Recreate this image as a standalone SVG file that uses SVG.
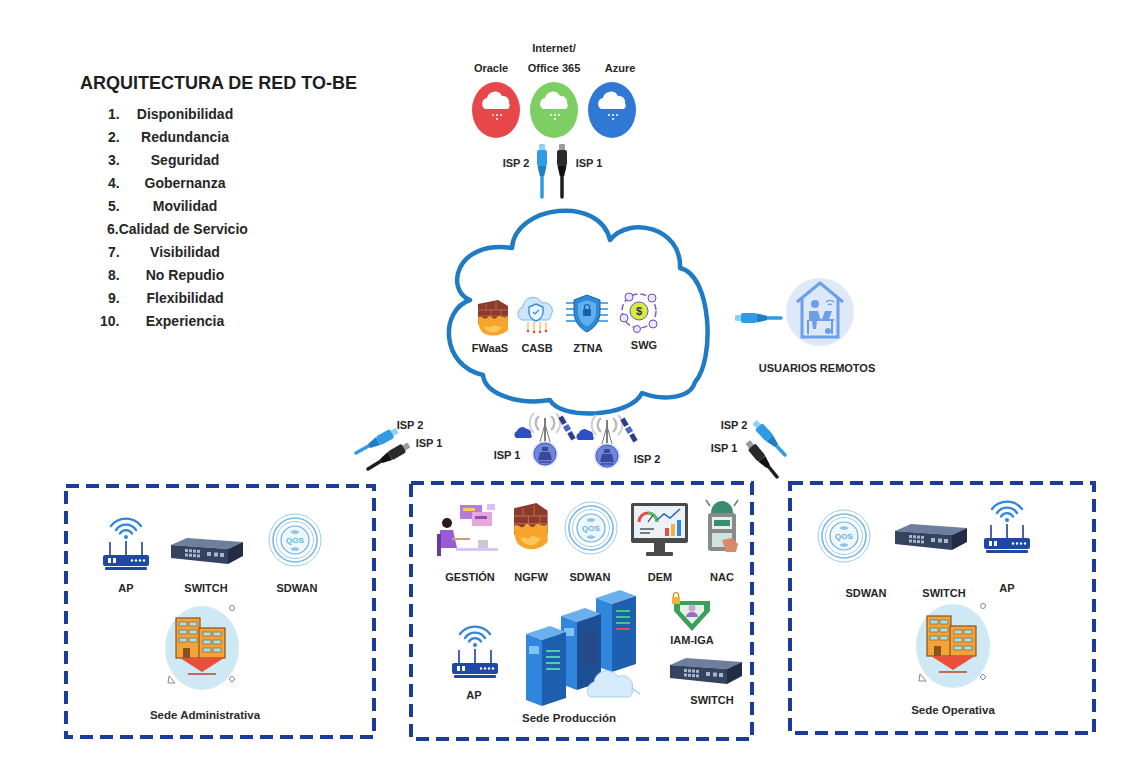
<svg xmlns="http://www.w3.org/2000/svg" width="1133" height="760" viewBox="0 0 1133 760">
  <style>
    .title { font-family: "Liberation Sans", Arial, sans-serif; font-size: 18px; font-weight: bold; fill: #1e1e1e; }
    .item { font-family: "Liberation Sans", Arial, sans-serif; font-size: 14px; font-weight: bold; fill: #262626; }
    .lbl { font-family: "Liberation Sans", Arial, sans-serif; font-size: 11px; font-weight: bold; fill: #262626; text-anchor: middle; }
    .site { font-family: "Liberation Sans", Arial, sans-serif; font-size: 11.5px; font-weight: bold; fill: #2a2a2a; text-anchor: middle; }
    .qos { font-family: "Liberation Sans", Arial, sans-serif; font-size: 8px; font-weight: bold; fill: #6aaee0; text-anchor: middle; }
    .box { fill: none; stroke: #1c3c9c; stroke-width: 4; stroke-dasharray: 13 7; }
    .cloudline { fill: #ffffff; stroke: #1f7bc4; stroke-width: 4.5; stroke-linejoin: round; }
    .cable-blue { stroke: #2f9be3; stroke-width: 3.5; stroke-linecap: round; }
    .cable-black { stroke: #1e1e1e; stroke-width: 3.5; stroke-linecap: round; }
  </style>
  <defs>
    <!-- RJ45 plug, tip pointing up (-y), cable continues below the origin -->
    <g id="plug-blue">
      <rect x="-3" y="-30" width="6" height="7" rx="1" fill="#8fd0f5"/>
      <rect x="-5" y="-24" width="10" height="16" rx="2" fill="#2f9be3"/>
      <path d="M-4.5,-8 L4.5,-8 L2.2,2 L-2.2,2 Z" fill="#1e7fc4"/>
    </g>
    <g id="plug-black">
      <rect x="-3" y="-30" width="6" height="7" rx="1" fill="#9a9a9a"/>
      <rect x="-5" y="-24" width="10" height="16" rx="2" fill="#2a2a2a"/>
      <path d="M-4.5,-8 L4.5,-8 L2.2,2 L-2.2,2 Z" fill="#111"/>
    </g>
    <!-- white cloud glyph used on the service bubbles -->
    <g id="mini-cloud">
      <path d="M-12,4 a6,6 0 0 1 2,-11 a8,8 0 0 1 15,-2 a6,6 0 0 1 7,7 a5,5 0 0 1 -1,6 Z" fill="#ffffff"/>
      <circle cx="-4" cy="10" r="1" fill="#ffffff"/>
      <circle cx="0" cy="10" r="1" fill="#ffffff"/>
      <circle cx="4" cy="10" r="1" fill="#ffffff"/>
      <circle cx="0" cy="14" r="1" fill="#ffffff"/>
    </g>
    <!-- access point -->
    <g id="ap">
      <path d="M13,16 a12,12 0 0 1 20,0" fill="none" stroke="#2f86dc" stroke-width="2.4" stroke-linecap="round"/>
      <path d="M8,12 a19,19 0 0 1 30,0" fill="none" stroke="#2f86dc" stroke-width="2.4" stroke-linecap="round"/>
      <path d="M17,19.5 a7,7 0 0 1 12,0" fill="none" stroke="#2f86dc" stroke-width="2.4" stroke-linecap="round"/>
      <circle cx="23" cy="23" r="2" fill="#2f86dc"/>
      <line x1="7" y1="28" x2="7" y2="41" stroke="#1d3f98" stroke-width="1.6"/>
      <line x1="23" y1="27" x2="23" y2="41" stroke="#1d3f98" stroke-width="1.6"/>
      <line x1="39" y1="28" x2="39" y2="41" stroke="#1d3f98" stroke-width="1.6"/>
      <rect x="0" y="41" width="46" height="11" rx="2" fill="#1f48a6"/>
      <rect x="5" y="44" width="3" height="5" fill="#fff"/>
      <rect x="10" y="44" width="3" height="5" fill="#fff"/>
      <circle cx="29" cy="46.5" r="1.2" fill="#fff"/>
      <circle cx="33" cy="46.5" r="1.2" fill="#fff"/>
      <circle cx="37" cy="46.5" r="1.2" fill="#fff"/>
      <circle cx="41" cy="46.5" r="1.2" fill="#fff"/>
      <rect x="2" y="53" width="42" height="3" rx="1" fill="#1f48a6"/>
    </g>
    <!-- network switch -->
    <g id="switch">
      <polygon points="0,8 16,1 72,5 57,12" fill="#6d7f9c"/>
      <polygon points="0,8 57,12 57,27 0,21" fill="#34435f"/>
      <polygon points="57,12 72,5 72,19 57,27" fill="#222d45"/>
      <g fill="#a9b6cc">
        <rect x="14" y="12" width="3" height="3"/><rect x="18" y="12.3" width="3" height="3"/><rect x="22" y="12.6" width="3" height="3"/><rect x="26" y="12.9" width="3" height="3"/>
        <rect x="14" y="16.5" width="3" height="3"/><rect x="18" y="16.8" width="3" height="3"/><rect x="22" y="17.1" width="3" height="3"/><rect x="26" y="17.4" width="3" height="3"/>
        <rect x="36" y="15" width="4" height="4"/><rect x="43" y="15.5" width="4" height="4"/><rect x="49" y="16" width="4" height="4"/>
      </g>
    </g>
    <!-- SD-WAN / QoS badge -->
    <g id="qos">
      <circle r="26" fill="#ffffff" stroke="#9ccbee" stroke-width="1"/>
      <circle r="22" fill="none" stroke="#7cb8e6" stroke-width="1.6"/>
      <circle r="18.5" fill="none" stroke="#9ccbee" stroke-width="1"/>
      <circle r="14" fill="#eef7fd" stroke="#6aaee0" stroke-width="1.2"/>
      <ellipse cx="0" cy="-8" rx="4" ry="1.8" fill="#8cc4ea"/>
      <ellipse cx="0" cy="9" rx="4" ry="1.8" fill="#8cc4ea"/>
      <text class="qos" x="0" y="3">QOS</text>
    </g>
    <!-- site building -->
    <g id="building">
      <ellipse rx="37" ry="42" fill="#cfe9f4"/>
      <rect x="-26" y="-30" width="24" height="40" fill="#f2a33a" stroke="#8a5220" stroke-width="1.2"/>
      <rect x="-3" y="-20" width="26" height="30" fill="#f2a33a" stroke="#8a5220" stroke-width="1.2"/>
      <g fill="#9fe0ec" stroke="#8a5220" stroke-width="0.6">
        <rect x="-23" y="-26" width="8" height="4"/><rect x="-13" y="-26" width="8" height="4"/>
        <rect x="-23" y="-18" width="8" height="4"/><rect x="-13" y="-18" width="8" height="4"/>
        <rect x="-23" y="-10" width="8" height="4"/><rect x="-13" y="-10" width="8" height="4"/>
        <rect x="1" y="-16" width="8" height="4"/><rect x="11" y="-16" width="8" height="4"/>
        <rect x="1" y="-8" width="8" height="4"/><rect x="11" y="-8" width="8" height="4"/>
        <rect x="1" y="0" width="8" height="4"/><rect x="11" y="0" width="8" height="4"/>
      </g>
      <rect x="-19" y="0" width="7" height="10" fill="#8a5220"/>
      <polygon points="-22,10 22,10 0,24" fill="#e9503a"/>
      <line x1="-14" y1="26" x2="14" y2="26" stroke="#c23c2a" stroke-width="1.5"/>
      <circle cx="30" cy="-40" r="2.5" fill="none" stroke="#888" stroke-width="1"/>
      <polygon points="30,28 33,31 30,34 27,31" fill="none" stroke="#888" stroke-width="1"/>
      <polygon points="-33,28 -27,35 -34,35" fill="none" stroke="#888" stroke-width="1"/>
    </g>
    <!-- radio link tower with satellite and cloud -->
    <g id="tower">
      <line x1="0" y1="-12" x2="0" y2="-36" stroke="#555" stroke-width="1.5"/>
      <line x1="-5" y1="-12" x2="0" y2="-30" stroke="#777" stroke-width="1"/>
      <line x1="5" y1="-12" x2="0" y2="-30" stroke="#777" stroke-width="1"/>
      <path d="M-6,-38 a9,9 0 0 0 0,14" fill="none" stroke="#b9b9b9" stroke-width="2.2"/>
      <path d="M6,-38 a9,9 0 0 1 0,14" fill="none" stroke="#b9b9b9" stroke-width="2.2"/>
      <path d="M-11,-41 a14,14 0 0 0 0,20" fill="none" stroke="#cfcfcf" stroke-width="2"/>
      <path d="M11,-41 a14,14 0 0 1 0,20" fill="none" stroke="#cfcfcf" stroke-width="2"/>
      <path d="M-29,-16 a4,4 0 0 1 1,-7 a6,6 0 0 1 10,-2 a4,4 0 0 1 4,5 a3,3 0 0 1 0,4 Z" fill="#2f4fc4"/>
      <g transform="translate(22,-26) rotate(60)">
        <rect x="-13" y="-2.5" width="8" height="5" fill="#2c3f8f"/>
        <rect x="-3" y="-3" width="6" height="6" fill="#4a66c8"/>
        <rect x="5" y="-2.5" width="8" height="5" fill="#2c3f8f"/>
      </g>
      <circle r="13" fill="#dde3f8"/>
      <circle r="11" fill="#6f86e0" stroke="#4258b8" stroke-width="1"/>
      <path d="M-3,-7 h6 v4 h-6 Z M-5,-2 h10 l2,8 h-14 Z" fill="#3a4a9a"/>
      <line x1="-6" y1="8" x2="6" y2="8" stroke="#3a4a9a" stroke-width="1.5"/>
    </g>
    <!-- brick wall with flames (firewall) -->
    <g id="firewall">
      <path d="M0,4 L20,0 L30,6 L30,24 L0,24 Z" fill="#8b3a2c"/>
      <g stroke="#c0705a" stroke-width="0.8">
        <line x1="0" y1="10" x2="30" y2="10"/><line x1="0" y1="16" x2="30" y2="16"/>
        <line x1="8" y1="4" x2="8" y2="10"/><line x1="18" y1="2" x2="18" y2="10"/>
        <line x1="13" y1="10" x2="13" y2="16"/><line x1="23" y1="10" x2="23" y2="16"/>
      </g>
      <path d="M0,18 C4,14 6,22 10,17 C13,13 15,22 19,17 C22,14 26,20 30,16 L30,30 C24,36 12,38 4,32 C1,28 0,24 0,18 Z" fill="#f6a52a"/>
      <path d="M6,28 C9,24 12,30 15,26 C18,23 21,29 24,26 C22,33 12,35 6,28 Z" fill="#f8c95a"/>
    </g>
  </defs>

  <rect width="1133" height="760" fill="#ffffff"/>

  <!-- heading and list of design principles -->
  <g id="heading">
    <text class="title" x="80" y="89">ARQUITECTURA DE RED TO-BE</text>
    <g class="item">
      <text x="108" y="119">1.</text><text x="185" y="119" text-anchor="middle">Disponibilidad</text>
      <text x="108" y="142">2.</text><text x="185" y="142" text-anchor="middle">Redundancia</text>
      <text x="108" y="165">3.</text><text x="185" y="165" text-anchor="middle">Seguridad</text>
      <text x="108" y="188">4.</text><text x="185" y="188" text-anchor="middle">Gobernanza</text>
      <text x="108" y="211">5.</text><text x="185" y="211" text-anchor="middle">Movilidad</text>
      <text x="107" y="234">6.Calidad de Servicio</text>
      <text x="108" y="257">7.</text><text x="185" y="257" text-anchor="middle">Visibilidad</text>
      <text x="108" y="280">8.</text><text x="185" y="280" text-anchor="middle">No Repudio</text>
      <text x="108" y="303">9.</text><text x="185" y="303" text-anchor="middle">Flexibilidad</text>
      <text x="100" y="326">10.</text><text x="185" y="326" text-anchor="middle">Experiencia</text>
    </g>
  </g>

  <!-- connectors: cables between clouds, sites and remote users -->
  <g id="connectors">
    <line class="cable-blue" x1="542" y1="170" x2="542" y2="197"/>
    <use href="#plug-blue" transform="translate(542,174)"/>
    <line class="cable-black" x1="562" y1="170" x2="562" y2="197"/>
    <use href="#plug-black" transform="translate(562,174)"/>

    <line class="cable-blue" x1="760" y1="318" x2="781" y2="318"/>
    <use href="#plug-blue" transform="translate(765,318) rotate(-90)"/>

    <line class="cable-blue" x1="356" y1="453" x2="374" y2="443"/>
    <use href="#plug-blue" transform="translate(371,445) rotate(61)"/>
    <line class="cable-black" x1="368" y1="469" x2="386" y2="458"/>
    <use href="#plug-black" transform="translate(383,460) rotate(60)"/>

    <line class="cable-blue" x1="785" y1="455" x2="772" y2="441"/>
    <use href="#plug-blue" transform="translate(775,444) rotate(-43)"/>
    <line class="cable-black" x1="777" y1="477" x2="764" y2="461"/>
    <use href="#plug-black" transform="translate(767,465) rotate(-40)"/>
  </g>

  <!-- public cloud services -->
  <g id="oracle">
    <ellipse cx="496" cy="110" rx="24" ry="28" fill="#e8474a"/>
    <use href="#mini-cloud" transform="translate(497,105)"/>
    <text class="lbl" x="491" y="72">Oracle</text>
  </g>
  <g id="internet">
    <ellipse cx="554" cy="110" rx="24" ry="28" fill="#7dcf63"/>
    <use href="#mini-cloud" transform="translate(555,105)"/>
    <text class="lbl" x="554" y="52">Internet/</text>
    <text class="lbl" x="554" y="72">Office 365</text>
  </g>
  <g id="azure">
    <ellipse cx="612" cy="110" rx="24" ry="28" fill="#2f78d4"/>
    <use href="#mini-cloud" transform="translate(613,105)"/>
    <text class="lbl" x="620" y="72">Azure</text>
  </g>
  <g id="isp-top">
    <text class="lbl" x="516" y="167">ISP 2</text>
    <text class="lbl" x="589" y="167">ISP 1</text>
  </g>

  <!-- SASE cloud -->
  <g id="sase-cloud">
    <path class="cloudline" d="M470,300 C445,290 455,240 512,248 C515,205 600,195 610,240 C630,215 682,228 680,268 C712,275 715,360 695,382 C690,400 660,400 642,393 C630,418 560,420 550,400 C520,405 485,395 483,375 C440,365 440,310 470,300 Z"/>
    <g id="fwaas">
      <use href="#firewall" transform="translate(478,300)"/>
      <text class="lbl" x="490" y="352">FWaaS</text>
    </g>
    <g id="casb">
      <path d="M522,320 a7,7 0 0 1 1,-13 a10,10 0 0 1 19,-4 a8,8 0 0 1 9,12 a5,5 0 0 1 -3,5 Z" fill="#cde6fa" stroke="#7ab8ea" stroke-width="1"/>
      <path d="M536,304 l7,3 v5 c0,5 -4,8 -7,9 c-3,-1 -7,-4 -7,-9 v-5 Z" fill="#e9f4fd" stroke="#3a8ad8" stroke-width="1.4"/>
      <path d="M533,312 l2,2 l4,-4" fill="none" stroke="#3a8ad8" stroke-width="1.2"/>
      <g stroke="#f0a030" stroke-width="1">
        <line x1="528" y1="322" x2="528" y2="330"/><line x1="534" y1="322" x2="534" y2="331"/>
        <line x1="540" y1="322" x2="540" y2="331"/><line x1="546" y1="322" x2="546" y2="330"/>
      </g>
      <g fill="#e8503a">
        <circle cx="528" cy="331" r="1.3"/><circle cx="534" cy="332" r="1.3"/><circle cx="540" cy="332" r="1.3"/><circle cx="546" cy="331" r="1.3"/>
      </g>
      <text class="lbl" x="537" y="352">CASB</text>
    </g>
    <g id="ztna">
      <g stroke="#2d8ad8" stroke-width="1.6">
        <line x1="566" y1="303" x2="608" y2="303"/><line x1="566" y1="309" x2="608" y2="309"/>
        <line x1="566" y1="315" x2="608" y2="315"/><line x1="566" y1="321" x2="608" y2="321"/>
      </g>
      <path d="M587,295 l13,5 v12 c0,10 -7,17 -13,20 c-6,-3 -13,-10 -13,-20 v-12 Z" fill="#2d8ad8" stroke="#1a5fa8" stroke-width="1"/>
      <path d="M587,300 l9,3.5 v9 c0,7 -5,12 -9,14 c-4,-2 -9,-7 -9,-14 v-9 Z" fill="#5fb0ef"/>
      <rect x="583" y="309" width="8" height="7" rx="1" fill="#1a5fa8"/>
      <path d="M584.5,309 v-2 a2.5,2.5 0 0 1 5,0 v2" fill="none" stroke="#1a5fa8" stroke-width="1.2"/>
      <text class="lbl" x="588" y="352">ZTNA</text>
    </g>
    <g id="swg">
      <circle cx="639" cy="311" r="17" fill="none" stroke="#7a5ad0" stroke-width="1.5" stroke-dasharray="6 3"/>
      <g fill="#ede6fb" stroke="#6a4fc8" stroke-width="1">
        <circle cx="629" cy="297" r="4"/><circle cx="652" cy="298" r="4"/>
        <circle cx="624" cy="318" r="4"/><circle cx="653" cy="324" r="4"/><circle cx="637" cy="329" r="3.5"/>
      </g>
      <circle cx="639" cy="311" r="9" fill="#d6ee3a" stroke="#6a4fc8" stroke-width="1"/>
      <text x="639" y="315" font-family="Liberation Sans, Arial, sans-serif" font-size="11" font-weight="bold" fill="#3a2a6a" text-anchor="middle">$</text>
      <text class="lbl" x="644" y="349">SWG</text>
    </g>
  </g>

  <!-- remote users -->
  <g id="usuarios-remotos">
    <circle cx="820" cy="312" r="34" fill="#dde8f8"/>
    <polyline points="797,302 820,283 843,302" fill="none" stroke="#6d9ee8" stroke-width="3" stroke-linejoin="round"/>
    <polyline points="802,298 802,337 838,337 838,298" fill="none" stroke="#6d9ee8" stroke-width="3"/>
    <circle cx="815" cy="304" r="4" fill="#6d9ee8"/>
    <path d="M809,311 h9 l3,10 h-4 l-1,8 h-3 l-1,-8 h-3 Z" fill="#6d9ee8"/>
    <line x1="808" y1="320" x2="808" y2="334" stroke="#6d9ee8" stroke-width="2"/>
    <line x1="818" y1="320" x2="834" y2="320" stroke="#6d9ee8" stroke-width="2"/>
    <line x1="832" y1="320" x2="832" y2="334" stroke="#6d9ee8" stroke-width="2"/>
    <path d="M822,319 l3,-8 h7 l-3,8 Z" fill="#6d9ee8"/>
    <path d="M826,302 a6,6 0 0 1 8,0 M828,305 a3,3 0 0 1 4,0" fill="none" stroke="#6d9ee8" stroke-width="1.4"/>
    <circle cx="828" cy="331" r="3" fill="#6d9ee8"/>
    <text class="lbl" x="817" y="372">USUARIOS REMOTOS</text>
  </g>

  <!-- ISP links towards the sites -->
  <g id="isp-left">
    <text class="lbl" x="410" y="429">ISP 2</text>
    <text class="lbl" x="429" y="447">ISP 1</text>
  </g>
  <g id="tower-isp1">
    <use href="#tower" transform="translate(545,454)"/>
    <text class="lbl" x="507" y="459">ISP 1</text>
  </g>
  <g id="tower-isp2">
    <use href="#tower" transform="translate(607,456)"/>
    <text class="lbl" x="647" y="463">ISP 2</text>
  </g>
  <g id="isp-right">
    <text class="lbl" x="734" y="429">ISP 2</text>
    <text class="lbl" x="724" y="452">ISP 1</text>
  </g>

  <!-- Sede Administrativa -->
  <g id="sede-administrativa">
    <rect class="box" x="66" y="486" width="308" height="251"/>
    <use href="#ap" transform="translate(103,514)"/>
    <text class="lbl" x="126" y="592">AP</text>
    <use href="#switch" transform="translate(171,537)"/>
    <text class="lbl" x="206" y="592">SWITCH</text>
    <use href="#qos" transform="translate(295,540)"/>
    <text class="lbl" x="297" y="592">SDWAN</text>
    <use href="#building" transform="translate(202,648)"/>
    <text class="site" x="205" y="719">Sede Administrativa</text>
  </g>

  <!-- Sede Producción -->
  <g id="sede-produccion">
    <rect class="box" x="411" y="483" width="341" height="256"/>
    <g id="gestion">
      <rect x="460" y="505" width="22" height="14" fill="#b77be0"/>
      <rect x="472" y="512" width="20" height="14" fill="#e8a7d8"/>
      <rect x="463" y="508" width="12" height="3" fill="#f2d24a"/>
      <rect x="475" y="516" width="12" height="3" fill="#8a50c0"/>
      <rect x="487" y="504" width="8" height="6" fill="#d9c0f0"/>
      <circle cx="447" cy="523" r="5" fill="#2a1a1a"/>
      <path d="M440,530 h13 l4,18 h-18 Z" fill="#9a5bd6"/>
      <rect x="437" y="534" width="4" height="22" fill="#6a3aa0"/>
      <line x1="452" y1="539" x2="470" y2="539" stroke="#d49a80" stroke-width="2"/>
      <rect x="456" y="548" width="42" height="3" fill="#d8c8f0"/>
      <rect x="478" y="540" width="10" height="8" fill="#c8c8d8"/>
      <text class="lbl" x="470" y="581">GESTIÓN</text>
    </g>
    <g id="ngfw">
      <use href="#firewall" transform="translate(514,503) scale(1.12,1.3)"/>
      <text class="lbl" x="531" y="581">NGFW</text>
    </g>
    <g id="sdwan-prod">
      <use href="#qos" transform="translate(591,528)"/>
      <text class="lbl" x="590" y="581">SDWAN</text>
    </g>
    <g id="dem">
      <rect x="631" y="503" width="57" height="40" rx="2" fill="#4a4a4a"/>
      <rect x="634" y="506" width="51" height="32" fill="#eaf2f8"/>
      <path d="M639,522 a9,9 0 0 1 18,0" fill="none" stroke="#e84a4a" stroke-width="3"/>
      <path d="M648,513 a9,9 0 0 1 9,9" fill="none" stroke="#4ac46a" stroke-width="3"/>
      <line x1="648" y1="522" x2="653" y2="515" stroke="#333" stroke-width="1.2"/>
      <polyline points="657,520 664,514 670,518 680,509" fill="none" stroke="#2a5fb8" stroke-width="1.5"/>
      <rect x="665" y="528" width="4" height="8" fill="#e84a4a"/>
      <rect x="671" y="524" width="4" height="12" fill="#f2b33a"/>
      <rect x="677" y="520" width="4" height="16" fill="#2f86dc"/>
      <rect x="640" y="528" width="14" height="2" fill="#7a7a7a"/>
      <rect x="640" y="532" width="10" height="2" fill="#7a7a7a"/>
      <rect x="654" y="543" width="11" height="9" fill="#4a4a4a"/>
      <rect x="646" y="552" width="27" height="4" rx="1" fill="#4a4a4a"/>
      <text class="lbl" x="660" y="581">DEM</text>
    </g>
    <g id="nac">
      <line x1="706" y1="500" x2="710" y2="506" stroke="#777" stroke-width="1.5"/>
      <line x1="738" y1="500" x2="734" y2="506" stroke="#777" stroke-width="1.5"/>
      <path d="M711,513 a11,12 0 0 1 22,0 Z" fill="#3b8c6e"/>
      <rect x="708" y="513" width="28" height="38" rx="3" fill="#8a8a8a"/>
      <rect x="712" y="517" width="20" height="12" fill="#e6eef0"/>
      <rect x="714" y="520" width="16" height="6" fill="#3b8c6e"/>
      <rect x="712" y="533" width="20" height="14" fill="#cfe3dc"/>
      <path d="M722,540 l10,-2 l6,6 l-2,8 h-10 Z" fill="#d88a6a"/>
      <text class="lbl" x="722" y="581">NAC</text>
    </g>
    <g id="ap-prod">
      <use href="#ap" transform="translate(452,622)"/>
      <text class="lbl" x="474" y="699">AP</text>
    </g>
    <g id="servers">
      <path d="M560,690 C560,680 600,672 620,680 L640,694" fill="none" stroke="#9fcdf0" stroke-width="1.5"/>
      <g>
        <polygon points="596,598 620,590 636,596 612,604" fill="#6ab0ec"/>
        <polygon points="612,604 636,596 636,664 612,672" fill="#1f5fb0"/>
        <polygon points="596,598 612,604 612,672 596,666" fill="#2f86dc"/>
        <g fill="#3ad07a"><rect x="616" y="610" width="14" height="2"/><rect x="616" y="616" width="14" height="2"/><rect x="616" y="622" width="14" height="2"/></g>
        <g fill="#e84a4a"><rect x="616" y="628" width="14" height="2"/></g>
      </g>
      <g>
        <polygon points="561,616 585,608 601,614 577,622" fill="#6ab0ec"/>
        <polygon points="577,622 601,614 601,682 577,690" fill="#1d4f96"/>
        <polygon points="561,616 577,622 577,690 561,684" fill="#2f86dc"/>
        <rect x="564" y="628" width="10" height="8" fill="#7fc4f4"/>
        <rect x="581" y="630" width="16" height="36" fill="#264a8a"/>
      </g>
      <g>
        <polygon points="526,634 550,626 566,632 542,640" fill="#6ab0ec"/>
        <polygon points="542,640 566,632 566,698 542,706" fill="#1f5fb0"/>
        <polygon points="526,634 542,640 542,706 526,700" fill="#2f86dc"/>
        <rect x="529" y="646" width="10" height="8" fill="#7fc4f4"/>
        <g fill="#4ad0b0"><rect x="546" y="650" width="14" height="2"/><rect x="546" y="656" width="14" height="2"/><rect x="546" y="662" width="14" height="2"/><rect x="546" y="668" width="14" height="2"/></g>
      </g>
      <path d="M590,697 a9,9 0 0 1 4,-15 a13,13 0 0 1 24,-5 a10,10 0 0 1 14,12 a7,7 0 0 1 -3,8 Z" fill="#d6ebfb" stroke="#a6d0f0" stroke-width="1"/>
      <text class="site" x="569" y="722">Sede Producción</text>
    </g>
    <g id="iam-iga">
      <path d="M674,601 h36 v10 l-18,20 l-18,-20 Z" fill="#3aa05a"/>
      <path d="M680,605 h24 v6 l-12,13 l-12,-13 Z" fill="#e2f2e6"/>
      <circle cx="692" cy="608" r="3.5" fill="#c9a8d8"/>
      <path d="M686,617 a6,5 0 0 1 12,0 Z" fill="#9a6bc0"/>
      <rect x="672" y="597" width="8" height="7" fill="#f2b33a"/>
      <path d="M673.5,597 v-2 a2.5,2.5 0 0 1 5,0 v2" fill="none" stroke="#c88a1a" stroke-width="1.2"/>
      <text class="lbl" x="692" y="644">IAM-IGA</text>
    </g>
    <g id="switch-prod">
      <use href="#switch" transform="translate(670,657)"/>
      <text class="lbl" x="712" y="704">SWITCH</text>
    </g>
  </g>

  <!-- Sede Operativa -->
  <g id="sede-operativa">
    <rect class="box" x="790" y="483" width="304" height="250"/>
    <use href="#qos" transform="translate(844,536)"/>
    <text class="lbl" x="866" y="597">SDWAN</text>
    <use href="#switch" transform="translate(895,523)"/>
    <text class="lbl" x="944" y="597">SWITCH</text>
    <use href="#ap" transform="translate(984,497)"/>
    <text class="lbl" x="1007" y="592">AP</text>
    <use href="#building" transform="translate(953,646)"/>
    <text class="site" x="953" y="714">Sede Operativa</text>
  </g>
</svg>
